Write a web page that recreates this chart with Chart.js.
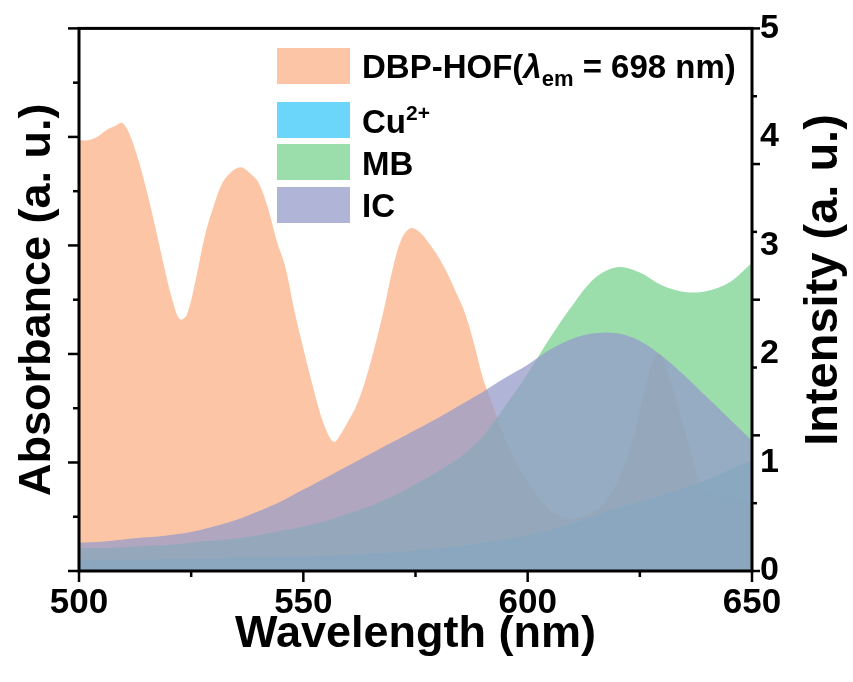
<!DOCTYPE html>
<html>
<head>
<meta charset="utf-8">
<script src="https://cdn.jsdelivr.net/npm/chart.js@4.4.1/dist/chart.umd.min.js"></script>
<style>
  html, body { margin: 0; padding: 0; background: #fff; }
</style>
</head>
<body>
<canvas id="c" width="853" height="682"></canvas>
<script>
// DBP-HOF excitation spectrum (lambda_em = 698 nm)
const dbpWl = [500, 502, 504, 506, 508, 509.5, 511, 513, 515, 517, 519, 521, 522.5, 524, 526, 528,
  530, 532, 534, 536, 538, 540, 542, 544, 546, 548, 550, 552, 554, 556, 557, 558, 560, 562, 564,
  566, 568, 570, 572, 574, 576, 578, 580, 582, 584, 586, 588, 590, 592, 594, 596, 598, 600, 602,
  604, 606, 608, 610, 612, 614, 616, 618, 620, 622, 624, 626, 628, 629, 630, 632, 634, 636, 638,
  640, 645, 650];
const dbpVals = [3.97, 3.97, 4.00, 4.06, 4.10, 4.13, 4.05, 3.82, 3.52, 3.17, 2.80, 2.47, 2.32, 2.36, 2.68, 3.08,
  3.36, 3.58, 3.68, 3.72, 3.67, 3.58, 3.36, 3.05, 2.80, 2.40, 2.05, 1.72, 1.42, 1.22, 1.19, 1.24, 1.38, 1.54, 1.78,
  2.08, 2.42, 2.80, 3.07, 3.16, 3.12, 3.02, 2.90, 2.75, 2.57, 2.38, 2.10, 1.78, 1.55, 1.32, 1.12, 0.96, 0.82, 0.70,
  0.60, 0.53, 0.49, 0.48, 0.50, 0.53, 0.58, 0.68, 0.82, 1.02, 1.30, 1.65, 1.95, 2.00, 1.98, 1.72, 1.45, 1.15, 0.85,
  0.72, 0.68, 0.66];

// absorbance of the analytes, every 5 nm
const absWl = [500, 505, 510, 515, 520, 525, 530, 535, 540, 545, 550, 555, 560, 565, 570, 575,
  580, 585, 590, 595, 600, 605, 610, 615, 620, 625, 630, 635, 640, 645, 650];
const cuVals = [0.10, 0.10, 0.10, 0.105, 0.11, 0.11, 0.115, 0.12, 0.12, 0.13, 0.13, 0.14, 0.15, 0.16, 0.17, 0.19,
  0.21, 0.23, 0.26, 0.29, 0.33, 0.38, 0.44, 0.51, 0.58, 0.64, 0.70, 0.77, 0.84, 0.93, 1.02];
const mbVals = [0.21, 0.21, 0.22, 0.23, 0.24, 0.26, 0.28, 0.30, 0.33, 0.37, 0.41, 0.46, 0.53, 0.60, 0.69, 0.80,
  0.92, 1.05, 1.24, 1.52, 1.82, 2.15, 2.45, 2.70, 2.80, 2.75, 2.63, 2.57, 2.58, 2.66, 2.84];
const icVals = [0.26, 0.27, 0.29, 0.31, 0.33, 0.36, 0.41, 0.47, 0.55, 0.64, 0.75, 0.86, 0.97, 1.08, 1.19, 1.30,
  1.41, 1.53, 1.65, 1.78, 1.90, 2.04, 2.14, 2.19, 2.19, 2.12, 1.98, 1.80, 1.60, 1.40, 1.20];

const xTicks = [500, 550, 600, 650];
const intensityTicks = [0, 1, 2, 3, 4, 5];

const FONT = '"Liberation Sans", Arial, sans-serif';
const toPoints = (xs, ys) => xs.map((x, i) => ({ x: x, y: ys[i] }));

const colors = {
  dbp: 'rgba(251, 176, 132, 0.73)',
  cu: 'rgba(54, 197, 248, 0.73)',
  mb: 'rgba(118, 210, 141, 0.73)',
  ic: 'rgba(147, 154, 202, 0.73)'
};

const area = (label, data, color, order) => ({
  label: label,
  data: data,
  backgroundColor: color,
  borderWidth: 0,
  pointRadius: 0,
  fill: 'origin',
  tension: 0.35,
  order: order
});

// frame + outward tick marks (major/minor of different length)
const frameTicks = {
  id: 'frameTicks',
  afterDraw(chart) {
    const { ctx, chartArea: a, scales } = chart;
    ctx.save();
    ctx.strokeStyle = '#000';
    ctx.lineWidth = 3;
    ctx.strokeRect(a.left, a.top, a.right - a.left, a.bottom - a.top);
    ctx.lineWidth = 2.5;
    const seg = (x1, y1, x2, y2) => { ctx.beginPath(); ctx.moveTo(x1, y1); ctx.lineTo(x2, y2); ctx.stroke(); };
    for (let v = 500; v <= 650; v += 25) {
      const px = scales.x.getPixelForValue(v);
      seg(px, a.bottom, px, a.bottom + (v % 50 === 0 ? 11 : 6));
    }
    for (let k = 0; k <= 10; k++) {
      const py = scales.y.getPixelForValue(k * 0.5);
      seg(a.left, py, a.left - (k % 2 === 0 ? 11 : 6), py);
    }
    for (let k = 0; k <= 8; k++) {
      const py = scales.y2.getPixelForValue(k * 0.625);
      seg(a.right, py, a.right + (k % 2 === 0 ? 8 : 5), py);
    }
    // right axis title reads bottom to top
    ctx.fillStyle = '#000';
    ctx.font = 'bold 47px ' + FONT;
    ctx.textAlign = 'center';
    ctx.textBaseline = 'middle';
    ctx.translate(824, 280);
    ctx.rotate(-Math.PI / 2);
    ctx.fillText('Intensity (a. u.)', 0, 0);
    ctx.restore();
  }
};

// legend with sub/superscripts
const legendBox = {
  id: 'legendBox',
  afterDraw(chart) {
    const ctx = chart.ctx;
    const ds = chart.data.datasets;
    const rows = [
      { i: 0, top: 48, base: 78, parts: [
        { t: 'DBP-HOF(', f: 'bold 33px' },
        { t: '\u03BB', f: 'italic bold 33px' },
        { t: 'em', f: 'bold 22px', dy: 8 },
        { t: ' = 698 nm)', f: 'bold 33px' }] },
      { i: 1, top: 102, base: 133, parts: [
        { t: 'Cu', f: 'bold 33px' },
        { t: '2+', f: 'bold 21px', dy: -13 }] },
      { i: 2, top: 144, base: 175, parts: [{ t: 'MB', f: 'bold 33px' }] },
      { i: 3, top: 187, base: 217, parts: [{ t: 'IC', f: 'bold 33px' }] }
    ];
    ctx.save();
    rows.forEach(r => {
      ctx.fillStyle = ds[r.i].backgroundColor;
      ctx.fillRect(277, r.top, 73, 36);
      ctx.fillStyle = '#000';
      ctx.textBaseline = 'alphabetic';
      ctx.textAlign = 'left';
      let x = 362;
      r.parts.forEach(p => {
        ctx.font = p.f + ' ' + FONT;
        ctx.fillText(p.t, x, r.base + (p.dy || 0));
        x += ctx.measureText(p.t).width;
      });
    });
    ctx.restore();
  }
};

new Chart(document.getElementById('c'), {
  type: 'line',
  data: {
    datasets: [
      area('DBP-HOF', toPoints(dbpWl, dbpVals), colors.dbp, 4),
      area('Cu2+', toPoints(absWl, cuVals), colors.cu, 3),
      area('MB', toPoints(absWl, mbVals), colors.mb, 2),
      area('IC', toPoints(absWl, icVals), colors.ic, 1)
    ]
  },
  options: {
    responsive: false,
    animation: false,
    layout: { padding: { top: 28, left: 0, right: 0, bottom: 0 } },
    plugins: { legend: { display: false }, tooltip: { enabled: false } },
    scales: {
      x: {
        type: 'linear', min: 500, max: 650,
        grid: { display: false, drawTicks: false },
        border: { display: false },
        afterBuildTicks: s => { s.ticks = xTicks.map(v => ({ value: v })); },
        ticks: { color: '#000', padding: 11, autoSkip: false, maxRotation: 0,
          font: { family: FONT, size: 35, weight: 'bold' } },
        title: { display: true, text: 'Wavelength (nm)', color: '#000', padding: { top: 0, bottom: 20 },
          font: { family: FONT, size: 45, weight: 'bold' } },
        afterFit: s => { s.height = 111; }
      },
      y: {
        position: 'left', min: 0, max: 5,
        grid: { display: false, drawTicks: false },
        border: { display: false },
        ticks: { display: false },
        title: { display: true, text: 'Absorbance (a. u.)', color: '#000', padding: { top: 11, bottom: 0 },
          font: { family: FONT, size: 45, weight: 'bold' } },
        afterFit: s => { s.width = 79; }
      },
      y2: {
        position: 'right', min: 0, max: 5,
        grid: { display: false, drawTicks: false },
        border: { display: false },
        afterBuildTicks: s => { s.ticks = intensityTicks.map(v => ({ value: v })); },
        ticks: { color: '#000', padding: 8, autoSkip: false,
          font: { family: FONT, size: 34, weight: 'bold' } },
        afterFit: s => { s.width = 101; }
      }
    }
  },
  plugins: [frameTicks, legendBox]
});
</script>
</body>
</html>
